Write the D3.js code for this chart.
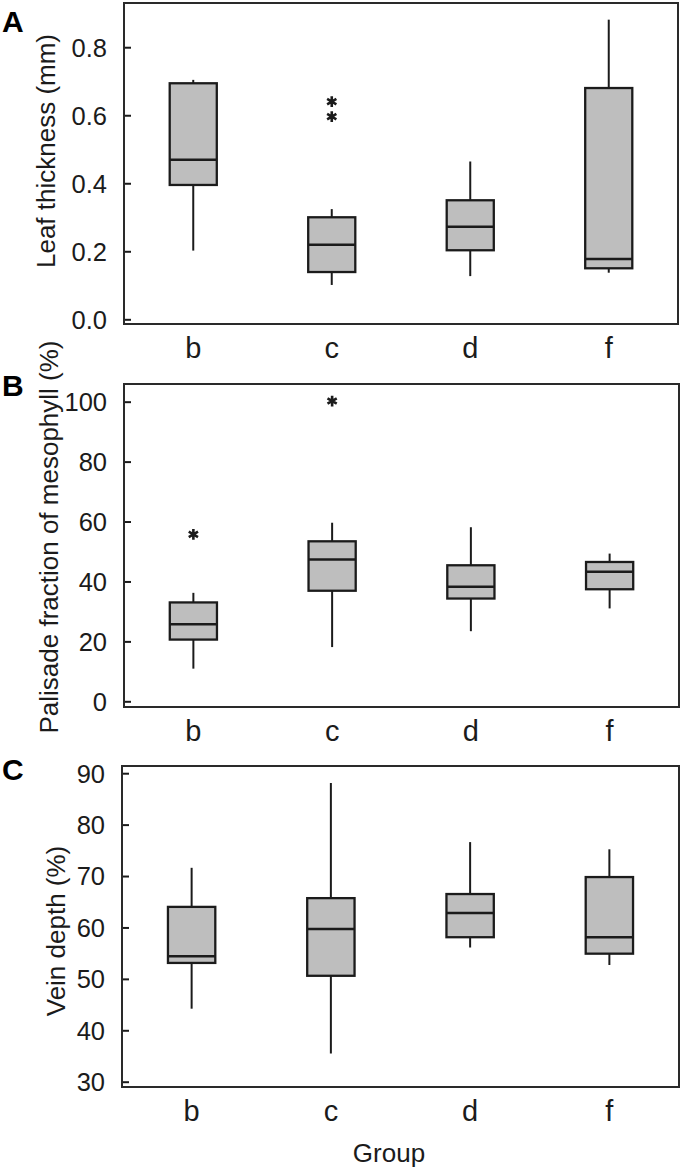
<!DOCTYPE html>
<html>
<head>
<meta charset="utf-8">
<script src="https://cdn.jsdelivr.net/npm/d3@7"></script>
<style>
  html, body { margin: 0; padding: 0; background: #fff; }
  svg { display: block; font-family: "Liberation Sans", Arial, Helvetica, sans-serif; }
</style>
</head>
<body>
<svg id="chart" width="683" height="1169"></svg>
<script>
// ---------- data ----------
const groups = ["b", "c", "d", "f"];

// Panel A: Leaf thickness (mm)
const thickLow  = [0.202, 0.101, 0.127, 0.137];
const thickQ1   = [0.395, 0.139, 0.203, 0.150];
const thickMed  = [0.469, 0.219, 0.272, 0.177];
const thickQ3   = [0.694, 0.300, 0.350, 0.680];
const thickHigh = [0.704, 0.324, 0.464, 0.881];
const thickOutGroups = ["c", "c"];
const thickOutValues = [0.640, 0.596];
const thickTicks = [0, 0.2, 0.4, 0.6, 0.8];

// Panel B: Palisade fraction of mesophyll (%)
const palLow  = [10.9, 18.1, 23.4, 31.0];
const palQ1   = [20.6, 36.9, 34.3, 37.4];
const palMed  = [25.7, 47.3, 38.2, 43.2];
const palQ3   = [33.0, 53.4, 45.4, 46.5];
const palHigh = [36.2, 59.6, 58.1, 49.3];
const palOutGroups = ["b", "c"];
const palOutValues = [55.7, 100.2];
const palTicks = [0, 20, 40, 60, 80, 100];

// Panel C: Vein depth (%)
const veinLow  = [44.2, 35.5, 56.1, 52.7];
const veinQ1   = [53.1, 50.6, 58.1, 54.9];
const veinMed  = [54.4, 59.7, 62.8, 58.1];
const veinQ3   = [64.0, 65.7, 66.5, 69.8];
const veinHigh = [71.6, 88.1, 76.6, 75.2];
const veinOutGroups = [];
const veinOutValues = [];
const veinTicks = [30, 40, 50, 60, 70, 80, 90];

// ---------- layout ----------
const panels = [
  { letter: "A", title: "Leaf thickness (mm)", low: thickLow, q1: thickQ1, med: thickMed, q3: thickQ3, high: thickHigh,
    outG: thickOutGroups, outV: thickOutValues, ticks: thickTicks, fmt: d3.format(".1f"),
    domain: [-0.0138, 0.930], box: { l: 124, r: 678, t: 3, b: 324 },
    letterY: 32, titleX: 55, titleY: 151 },
  { letter: "B", title: "Palisade fraction of mesophyll (%)", low: palLow, q1: palQ1, med: palMed, q3: palQ3, high: palHigh,
    outG: palOutGroups, outV: palOutValues, ticks: palTicks, fmt: d3.format("d"),
    domain: [-1.9, 105.9], box: { l: 124, r: 679, t: 384, b: 707 },
    letterY: 396, titleX: 58, titleY: 537 },
  { letter: "C", title: "Vein depth (%)", low: veinLow, q1: veinQ1, med: veinMed, q3: veinQ3, high: veinHigh,
    outG: veinOutGroups, outV: veinOutValues, ticks: veinTicks, fmt: d3.format("d"),
    domain: [28.97, 91.4], box: { l: 122, r: 679, t: 766, b: 1087 },
    letterY: 780, titleX: 65, titleY: 931 }
];

const svg = d3.select("#chart");
const ink = "#1b1b1b";
const fill = "#bebebe";

panels.forEach(p => {
  const B = p.box;
  const g = svg.append("g");
  const x = d3.scaleBand().domain(groups).range([B.l, B.r]).padding(0);
  const y = d3.scaleLinear().domain(p.domain).range([B.b, B.t]);
  const cx = k => x(k) + x.bandwidth() / 2;
  const bw = x.bandwidth() * 0.34;

  // y axis (ticks pointing inward)
  const ax = g.append("g")
    .attr("transform", `translate(${B.l},0)`)
    .call(d3.axisLeft(y).tickValues(p.ticks).tickFormat(p.fmt).tickSizeInner(-7).tickSizeOuter(0).tickPadding(17));
  ax.select(".domain").remove();
  ax.selectAll(".tick line").attr("stroke", ink).attr("stroke-width", 2);
  ax.selectAll(".tick text").attr("fill", ink).attr("font-size", 25.5).attr("dy", "0.35em");

  // frame
  g.append("rect")
    .attr("x", B.l).attr("y", B.t)
    .attr("width", B.r - B.l).attr("height", B.b - B.t)
    .attr("fill", "none").attr("stroke", "#2a2a2a").attr("stroke-width", 2);

  const data = groups.map((k, i) => ({ k, low: p.low[i], q1: p.q1[i], med: p.med[i], q3: p.q3[i], high: p.high[i] }));

  // whiskers
  g.selectAll(".whisk").data(data).enter().append("line")
    .attr("x1", d => cx(d.k)).attr("x2", d => cx(d.k))
    .attr("y1", d => y(d.low)).attr("y2", d => y(d.high))
    .attr("stroke", ink).attr("stroke-width", 2);

  // boxes
  g.selectAll(".boxr").data(data).enter().append("rect")
    .attr("x", d => cx(d.k) - bw / 2)
    .attr("y", d => y(d.q3))
    .attr("width", bw)
    .attr("height", d => y(d.q1) - y(d.q3))
    .attr("fill", fill).attr("stroke", ink).attr("stroke-width", 2.3);

  // medians
  g.selectAll(".med").data(data).enter().append("line")
    .attr("x1", d => cx(d.k) - bw / 2).attr("x2", d => cx(d.k) + bw / 2)
    .attr("y1", d => y(d.med)).attr("y2", d => y(d.med))
    .attr("stroke", ink).attr("stroke-width", 2.5);

  // outliers (asterisks)
  const outs = p.outG.map((k, i) => ({ k, v: p.outV[i] }));
  g.selectAll(".out").data(outs).enter().append("path")
    .attr("transform", d => `translate(${cx(d.k)},${y(d.v)})`)
    .attr("d", d3.symbol(d3.symbolAsterisk, 80))
    .attr("fill", "none").attr("stroke", ink).attr("stroke-width", 2.6);

  // category labels
  g.selectAll(".cat").data(groups).enter().append("text")
    .attr("x", d => cx(d)).attr("y", B.b + 34)
    .attr("text-anchor", "middle").attr("font-size", 29).attr("fill", ink)
    .text(d => d);

  // axis title
  g.append("text")
    .attr("transform", `translate(${p.titleX},${p.titleY}) rotate(-90)`)
    .attr("text-anchor", "middle").attr("font-size", 26).attr("fill", ink)
    .text(p.title);

  // panel letter
  g.append("text")
    .attr("x", 2).attr("y", p.letterY)
    .attr("font-size", 30).attr("font-weight", "bold").attr("fill", "#000")
    .text(p.letter);
});

// x axis title
svg.append("text")
  .attr("x", 389).attr("y", 1162)
  .attr("text-anchor", "middle").attr("font-size", 26).attr("fill", ink)
  .text("Group");
</script>
</body>
</html>
